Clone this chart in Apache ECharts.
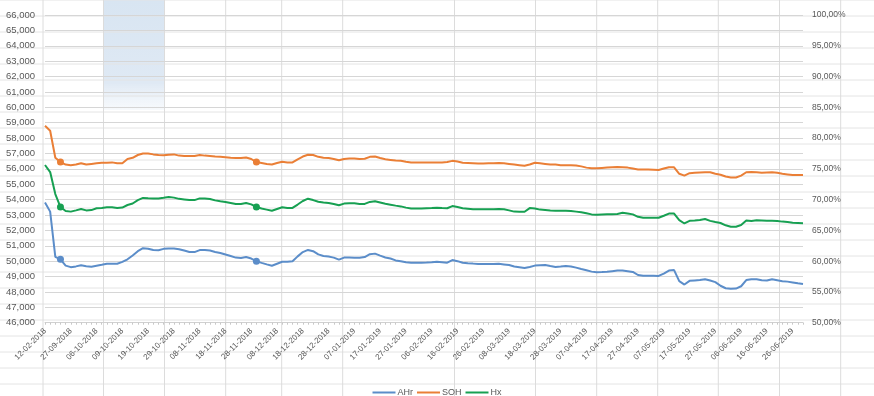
<!DOCTYPE html>
<html>
<head>
<meta charset="utf-8">
<script src="https://cdn.jsdelivr.net/npm/echarts@6/dist/echarts.min.js"></script>
<style>html,body{margin:0;padding:0;background:#fff}#c{width:874px;height:396px}</style>
</head>
<body>
<div id="c"></div>
<script>
// ---- tick labels (every 5th category) ----
const tickLabels = ['12-02-2018','27-09-2018','06-10-2018','09-10-2018','19-10-2018','29-10-2018','08-11-2018','18-11-2018','28-11-2018','08-12-2018','18-12-2018','28-12-2018','07-01-2019','17-01-2019','27-01-2019','06-02-2019','16-02-2019','26-02-2019','08-03-2019','18-03-2019','28-03-2019','07-04-2019','17-04-2019','27-04-2019','07-05-2019','17-05-2019','27-05-2019','06-06-2019','16-06-2019','26-06-2019'];

// ---- series values (AHr, Hx on left axis; SOH in % on right axis) ----
const AHr = [53820,53220,50280,50120,49710,49610,49660,49730,49670,49640,49700,49760,49830,49830,49830,49950,50120,50370,50650,50840,
50810,50720,50710,50800,50830,50820,50770,50690,50590,50590,50720,50720,50690,50600,50530,50430,50330,50230,50210,50270,
50170,50000,49890,49790,49700,49830,49960,49960,49990,50310,50590,50730,50650,50440,50340,50300,50230,50100,50230,50230,
50220,50220,50270,50450,50490,50360,50240,50170,50050,49990,49930,49900,49900,49900,49910,49930,49960,49930,49900,50070,
50000,49900,49860,49840,49810,49810,49810,49820,49830,49790,49750,49650,49600,49550,49620,49710,49730,49750,49680,49620,
49650,49690,49650,49580,49490,49410,49320,49280,49290,49310,49350,49390,49390,49350,49300,49100,49050,49050,49050,49040,
49190,49390,49420,48700,48480,48720,48750,48780,48830,48740,48640,48400,48240,48200,48220,48370,48770,48830,48820,48760,
48740,48820,48760,48700,48670,48620,48560,48510];

const SOH = [82.0,81.2,76.8,76.1,75.7,75.6,75.7,75.9,75.7,75.8,75.9,76.0,76.0,76.05,75.9,75.9,76.6,76.8,77.25,77.5,
77.5,77.35,77.25,77.2,77.3,77.35,77.15,77.1,77.1,77.1,77.25,77.15,77.1,77.0,76.95,76.9,76.8,76.75,76.75,76.85,
76.6,76.1,75.95,75.8,75.7,75.95,76.15,76.05,76.05,76.55,77.0,77.3,77.25,76.95,76.8,76.75,76.6,76.4,76.6,76.7,
76.7,76.6,76.65,76.95,77.0,76.75,76.55,76.45,76.35,76.3,76.15,76.05,76.05,76.05,76.05,76.05,76.05,76.05,76.1,76.3,
76.2,76.0,75.95,75.9,75.85,75.85,75.9,75.9,75.95,75.9,75.8,75.7,75.6,75.5,75.7,76.0,75.9,75.8,75.7,75.7,
75.6,75.6,75.6,75.55,75.4,75.2,75.1,75.1,75.15,75.2,75.25,75.3,75.25,75.2,75.05,74.9,74.9,74.9,74.85,74.8,
75.05,75.25,75.25,74.2,73.9,74.3,74.35,74.4,74.45,74.45,74.2,74.05,73.75,73.6,73.6,73.9,74.45,74.5,74.45,74.35,
74.4,74.45,74.35,74.2,74.1,74.0,74.0,74.0];

const Hx = [56250,55790,54360,53520,53260,53220,53300,53390,53300,53320,53440,53460,53500,53500,53450,53480,53650,53750,53970,54110,
54090,54080,54080,54120,54170,54130,54050,54010,53970,53970,54080,54080,54040,53950,53890,53840,53780,53720,53720,53780,
53690,53520,53420,53350,53280,53390,53500,53460,53460,53680,53910,54060,53970,53860,53810,53780,53710,53630,53740,53760,
53760,53720,53720,53850,53890,53810,53730,53670,53610,53560,53480,53430,53430,53430,53440,53450,53470,53450,53440,53580,
53520,53440,53410,53380,53370,53370,53370,53370,53390,53370,53300,53220,53210,53210,53450,53420,53350,53320,53290,53280,
53280,53280,53260,53220,53180,53110,53040,53010,53040,53050,53050,53070,53140,53100,53040,52880,52820,52820,52820,52820,
52950,53090,53090,52670,52450,52620,52640,52670,52740,52620,52540,52480,52330,52240,52240,52350,52640,52610,52660,52650,
52630,52620,52610,52570,52540,52500,52480,52460];

const markerIdx = [3, 41];

// ---- categories (5 per tick label, 2-day steps) ----
function parseD(s){const p=s.split('-').map(Number);return Date.UTC(p[2],p[1]-1,p[0]);}
function fmtD(t){const d=new Date(t);const z=n=>String(n).padStart(2,'0');return z(d.getUTCDate())+'-'+z(d.getUTCMonth()+1)+'-'+d.getUTCFullYear();}
const categories=[];
tickLabels.forEach((lb,i)=>{const n=i<tickLabels.length-1?5:AHr.length-5*(tickLabels.length-1);for(let k=0;k<n;k++)categories.push(fmtD(parseD(lb)+k*2*86400000));});
const labelSet=new Set(tickLabels);

function withMarkers(arr){return arr.map((v,i)=>markerIdx.includes(i)?{value:v,symbol:'circle',symbolSize:7}:v);}

// ---- background spreadsheet grid (decor) ----
const bg=[];
for(let y=384;y>=0;y-=16){bg.push({type:'line',z:-10,silent:true,shape:{x1:0,y1:y,x2:874,y2:y},style:{stroke:'#e4e4e4',lineWidth:1}});}
[43,103.5,164.5,225.7,281.7,342.7,454.5,535.5,596.7,657.7,718.3,779.5,840.7].forEach(x=>bg.push({type:'line',z:-10,silent:true,shape:{x1:x,y1:0,x2:x,y2:396},style:{stroke:'#dcdcdc',lineWidth:1}}));
bg.push({type:'rect',z:-11,silent:true,shape:{x:104,y:0,width:61,height:110},style:{fill:new echarts.graphic.LinearGradient(0,0,0,1,[{offset:0,color:'#d8e5f2'},{offset:0.75,color:'#dfe9f4'},{offset:1,color:'rgba(230,238,247,0.3)'}])}});

const chart=echarts.init(document.getElementById('c'),null,{renderer:'canvas'});
const lab={color:'#595959',fontFamily:'Liberation Sans, Arial, sans-serif'};
chart.setOption({
  animation:false,
  backgroundColor:'transparent',
  graphic:bg,
  grid:{left:45,width:758,top:15,height:307.7},
  legend:{
    data:['AHr','SOH','Hx'],left:'center',top:383,icon:'rect',itemWidth:23,itemHeight:2,itemGap:4,
    textStyle:Object.assign({fontSize:9,padding:[0,0,0,-3]},lab)
  },
  xAxis:{
    type:'category',data:categories,boundaryGap:false,
    axisLine:{show:true,lineStyle:{color:'#d0d0d0'}},
    axisTick:{show:true,interval:0,length:2,lineStyle:{color:'#c8c8c8'}},
    axisLabel:Object.assign({interval:(i,v)=>labelSet.has(v),rotate:45,fontSize:8,margin:7},lab),
    splitLine:{show:false}
  },
  yAxis:[
    {type:'value',min:46000,max:66000,interval:1000,position:'left',
     axisLine:{show:false},axisTick:{show:false},
     axisLabel:Object.assign({fontSize:9.5,margin:10,formatter:v=>v.toLocaleString('en-US')},lab),
     splitLine:{lineStyle:{color:'#d6d6d6'}}},
    {type:'value',min:50,max:100,interval:5,position:'right',
     axisLine:{show:false},axisTick:{show:false},
     axisLabel:Object.assign({fontSize:8.5,margin:9,formatter:v=>v.toFixed(2).replace('.',',')+'%'},lab),
     splitLine:{show:false}}
  ],
  series:[
    {name:'AHr',type:'line',yAxisIndex:0,data:withMarkers(AHr),symbol:'none',showSymbol:true,showAllSymbol:true,
     lineStyle:{width:2,color:'#5b8dc9'},itemStyle:{color:'#5b8dc9'},emphasis:{disabled:true}},
    {name:'SOH',type:'line',yAxisIndex:1,data:withMarkers(SOH),symbol:'none',showSymbol:true,showAllSymbol:true,
     lineStyle:{width:2,color:'#ea7f36'},itemStyle:{color:'#ea7f36'},emphasis:{disabled:true}},
    {name:'Hx',type:'line',yAxisIndex:0,data:withMarkers(Hx),symbol:'none',showSymbol:true,showAllSymbol:true,
     lineStyle:{width:2,color:'#17a052'},itemStyle:{color:'#17a052'},emphasis:{disabled:true}}
  ]
});
</script>
</body>
</html>
